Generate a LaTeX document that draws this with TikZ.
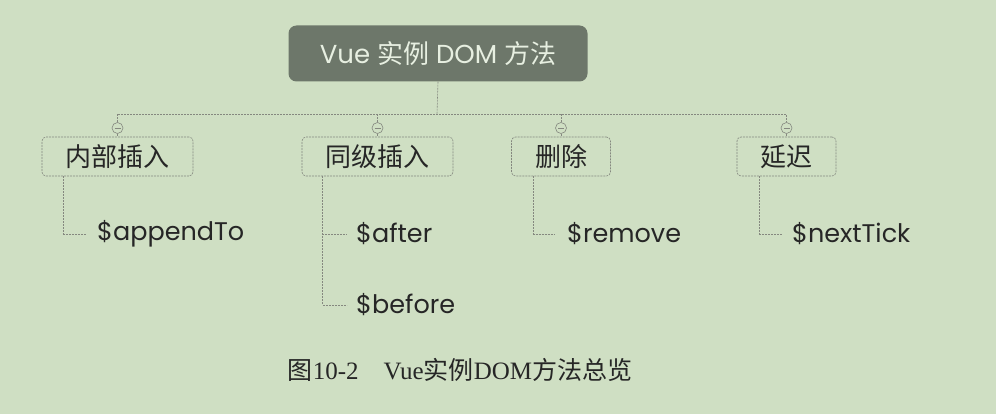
\documentclass[tikz,border=0pt]{standalone}
\usepackage{fontspec}
\setmainfont{Poppins}
\newfontfamily\cjk{Noto Sans CJK SC}
\newfontfamily\capfont{Liberation Serif}
\usetikzlibrary{calc}

\definecolor{bgc}{HTML}{CFDFC3}
\definecolor{rootc}{HTML}{6D776A}
\definecolor{linec}{HTML}{85887F}
\definecolor{textc}{HTML}{262626}

\tikzset{
    link/.style={draw=linec, line width=0.6pt, dash pattern=on 2pt off 1pt},
    root/.style={fill=rootc, rounded corners=8pt, minimum width=299pt, minimum height=56pt,
        text=bgc!50!white, font=\fontsize{26}{30}\selectfont},
    branch/.style={link, rounded corners=4pt, fill=bgc, inner xsep=23.5pt, minimum height=39pt,
        text=textc, font=\cjk\fontsize{26}{30}\selectfont},
    fold/.style={circle, link, solid, fill=bgc, minimum size=11pt, inner sep=0pt,
        path picture={\draw[linec, line width=0.6pt]
            ([xshift=-3pt]path picture bounding box.center) -- ([xshift=3pt]path picture bounding box.center);}},
    leaf/.style={anchor=west, inner sep=0pt, text=textc, font=\fontsize{25.5}{30}\selectfont}
}

\begin{document}
\begin{tikzpicture}[x=1pt, y=-1pt]
\fill[bgc] (0,0) rectangle (996,414);

% Root
\node[root] (root) at (438,53.5) {Vue {\cjk 实例} DOM {\cjk 方法}};
\coordinate (bus) at (437,114);

% Branches
\node[branch] (inner)  at (117.5,156.5) {内部插入};
\node[branch] (sib)    at (377.5,156.5) {同级插入};
\node[branch] (del)    at (561,156.5)   {删除};
\node[branch] (defer)  at (786.5,156.5) {延迟};

\node[fold] (f1) at (117.5,128) {};
\node[fold] (f2) at (377.5,128) {};
\node[fold] (f3) at (561,128)   {};
\node[fold] (f4) at (786.5,128) {};

\draw[link] (root.south) -- (bus);
\draw[link] (f1.north) -- (f1.north |- bus) -- (f4.north |- bus) -- (f4.north);
\draw[link] (f2.north) -- (f2.north |- bus);
\draw[link] (f3.north) -- (f3.north |- bus);
\draw[link] (f1) -- (inner) (f2) -- (sib) (f3) -- (del) (f4) -- (defer);

% Leaves
\node[leaf] (append) at (97,234)  {\$appendTo};
\node[leaf] (after)  at (356,234) {\$after};
\node[leaf] (before) at (356,305) {\$before};
\node[leaf] (remove) at (567,234) {\$remove};
\node[leaf] (tick)   at (792,234) {\$nextTick};

\draw[link] ([xshift=22pt]inner.south west) |- ([xshift=-11pt]append.west);
\draw[link] ([xshift=21pt]sib.south west) |- ([xshift=-9pt]after.west);
\draw[link] ([xshift=21pt]sib.south west) |- ([xshift=-9pt]before.west);
\draw[link] ([xshift=22pt]del.south west) |- ([xshift=-13pt]remove.west);
\draw[link] ([xshift=23pt]defer.south west) |- ([xshift=-10pt]tick.west);

% Caption
\node[text=textc, font=\fontsize{25}{30}\selectfont] (cap) at (460,370)
    {{\cjk 图}\capfont 10-2\quad Vue{\cjk 实例}DOM{\cjk 方法总览}};
\end{tikzpicture}
\end{document}
